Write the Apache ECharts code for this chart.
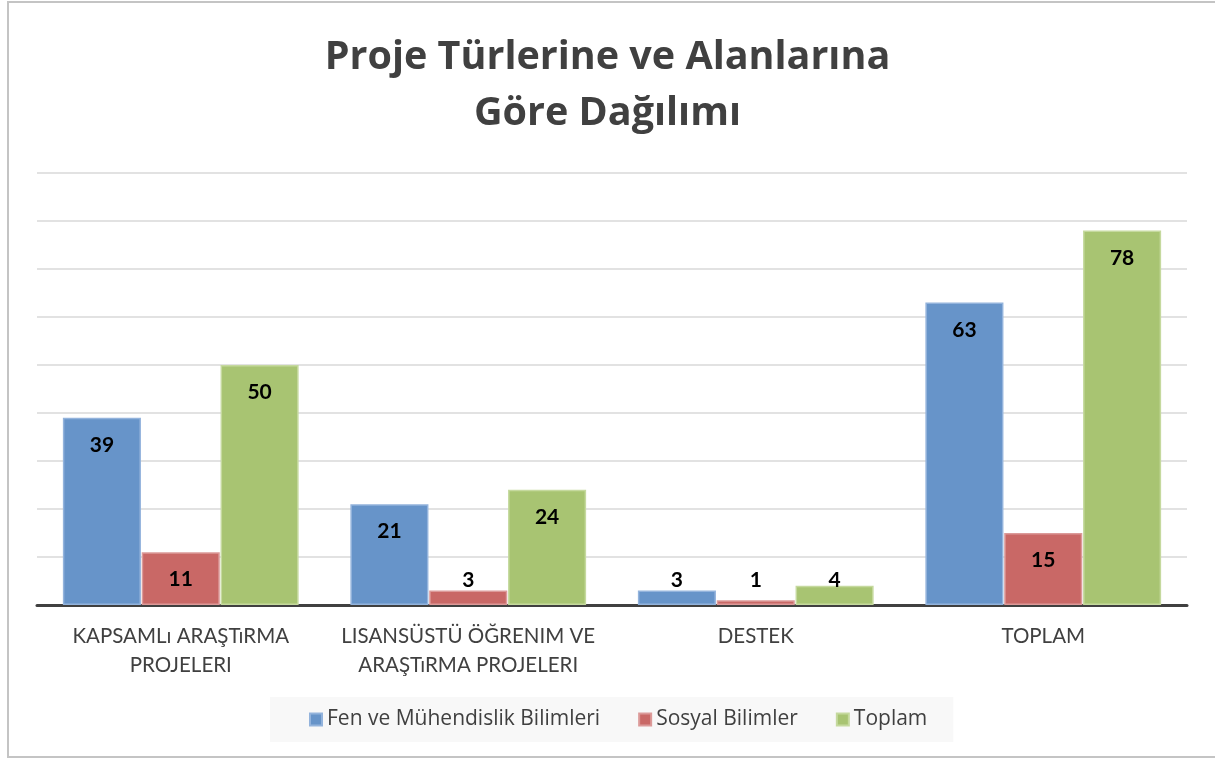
<!DOCTYPE html>
<html>
<head>
<meta charset="utf-8">
<script src="https://cdn.jsdelivr.net/npm/echarts@6/dist/echarts.min.js"></script>
<style>
html,body{margin:0;padding:0;background:#fff;}
#c{width:1215px;height:758px;}
</style>
</head>
<body>
<div id="c"></div>
<script>
const titleText = "Proje Türlerine ve Alanlarına\nGöre Dağılımı";
const categories = ["KAPSAMLı ARAŞTıRMA\nPROJELERI", "LISANSÜSTÜ ÖĞRENIM VE\nARAŞTıRMA PROJELERI", "DESTEK", "TOPLAM"];
const seriesNames = ["Fen ve Mühendislik Bilimleri", "Sosyal Bilimler", "Toplam"];
const fenValues = [39, 21, 3, 63];
const sosyalValues = [11, 3, 1, 15];
const toplamValues = [50, 24, 4, 78];

const fills = ["#6794c9", "#c96866", "#a8c472"];
const borders = ["#93b3dc", "#dc9a99", "#c5d99e"];
const font = "Lato, 'Open Sans', sans-serif";
const wideFont = "'Open Sans', Lato, sans-serif";

function mkData(vals) {
  return vals.map(v => v < 5
    ? { value: v, label: { position: 'insideBottom', distance: 14 } }
    : { value: v });
}

function mkSeries(name, vals, i) {
  return {
    name: name,
    type: 'bar',
    data: mkData(vals),
    barGap: '1%',
    barCategoryGap: '18%',
    itemStyle: { color: fills[i], borderColor: borders[i], borderWidth: 1.5 },
    label: {
      show: true,
      position: 'insideTop',
      distance: 17,
      color: '#000',
      fontFamily: font,
      fontWeight: 'bold',
      fontSize: 21
    }
  };
}

const chart = echarts.init(document.getElementById('c'), null, { renderer: 'canvas' });
chart.setOption({
  animation: false,
  backgroundColor: '#fff',
  title: {
    text: titleText,
    left: 'center',
    top: 25,
    textStyle: { fontFamily: wideFont, fontWeight: 'bold', fontSize: 39.5, color: '#404040', lineHeight: 56 }
  },
  graphic: [{
    type: 'rect',
    shape: { x: 8, y: 2, width: 1220, height: 755 },
    style: { fill: 'none', stroke: '#c4c4c4', lineWidth: 2 },
    z: 100
  }],
  legend: {
    data: seriesNames,
    left: 270,
    top: 697,
    backgroundColor: '#f8f8f8',
    padding: [12, 26, 12, 39],
    itemWidth: 12,
    itemHeight: 12,
    itemGap: 38,
    icon: 'rect',
    textStyle: { fontFamily: wideFont, fontSize: 21, color: '#404040' }
  },
  grid: { left: 37, right: 28, top: 173, bottom: 153, containLabel: false },
  xAxis: {
    type: 'category',
    data: categories,
    axisLine: { show: true, lineStyle: { color: '#404040', width: 3 } },
    axisTick: { show: false },
    axisLabel: { interval: 0, color: '#404040', fontFamily: font, fontSize: 20.5, lineHeight: 29, margin: 17 }
  },
  yAxis: {
    type: 'value',
    min: 0,
    max: 90,
    interval: 10,
    axisLabel: { show: false },
    axisLine: { show: false },
    axisTick: { show: false },
    splitLine: { lineStyle: { color: '#d9d9d9', width: 1.5 } }
  },
  series: [
    mkSeries(seriesNames[0], fenValues, 0),
    mkSeries(seriesNames[1], sosyalValues, 1),
    mkSeries(seriesNames[2], toplamValues, 2)
  ]
});
</script>
</body>
</html>
